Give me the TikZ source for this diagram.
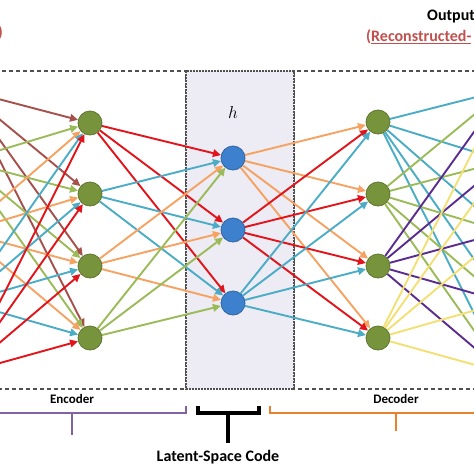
\documentclass[tikz,border=0pt]{standalone}
\usepackage{fontspec}
\setmainfont{Carlito}
\usetikzlibrary{arrows.meta}
\definecolor{inBrown}{HTML}{A5504B}
\definecolor{inGreen}{HTML}{9BBB59}
\definecolor{inOrange}{HTML}{F5A262}
\definecolor{inBlue}{HTML}{4BACC6}
\definecolor{inRed}{HTML}{E2141B}
\definecolor{outPurple}{HTML}{5B2C8F}
\definecolor{outYellow}{HTML}{F3E074}
\definecolor{unitGreen}{HTML}{77933C}
\definecolor{unitBlue}{HTML}{3D80CE}
\definecolor{codeFill}{HTML}{EDEBF3}
\definecolor{frameGray}{HTML}{505050}
\definecolor{encPurple}{HTML}{8064A2}
\definecolor{decOrange}{HTML}{E8822E}
\definecolor{titleRed}{HTML}{C0504D}
\tikzset{
	unitE/.style={circle, minimum size=24pt, inner sep=0pt, fill=unitGreen, draw=unitGreen!80!black, line width=0.8pt},
	unitZ/.style={circle, minimum size=24pt, inner sep=0pt, fill=unitBlue, draw=unitBlue!80!black, line width=0.8pt},
	wire/.style={line width=1.9pt, -{Triangle[length=8pt,width=7.5pt]}},
	brace/.style={line width=2.6pt}
}

\begin{document}
\begin{tikzpicture}[x=1pt, y=-1pt]
	%%%%% START %%%%%
	\useasboundingbox (0,0) rectangle (474,474);
	\clip (0,0) rectangle (474,474);
	
	% frames
	\draw[frameGray, line width=1.2pt, dash pattern=on 4pt off 3pt] (-20, 71) rectangle (186, 389);
	\draw[frameGray, line width=1.2pt, dash pattern=on 4pt off 3pt] (294, 71) rectangle (494, 389);
	\draw[fill=codeFill, draw=frameGray, line width=1.2pt, dash pattern=on 2pt off 1pt] (186, 71) rectangle (294, 389);
	\node at (233, 112) {\fontsize{17}{19}\selectfont $h$};
	
	% layers
	\coordinate (in1) at (-36, 90);
	\coordinate (in2) at (-36, 161);
	\coordinate (in3) at (-36, 232);
	\coordinate (in4) at (-36, 302);
	\coordinate (in5) at (-36, 373);
	\node[unitE] (e1) at (90, 123) {};
	\node[unitE] (e2) at (90, 194) {};
	\node[unitE] (e3) at (90, 266) {};
	\node[unitE] (e4) at (90, 338) {};
	\node[unitZ] (z1) at (233, 158) {};
	\node[unitZ] (z2) at (233, 230) {};
	\node[unitZ] (z3) at (233, 303) {};
	\node[unitE] (d1) at (378, 122) {};
	\node[unitE] (d2) at (378, 194) {};
	\node[unitE] (d3) at (378, 266) {};
	\node[unitE] (d4) at (378, 338) {};
	\coordinate (out1) at (504, 90);
	\coordinate (out2) at (504, 161);
	\coordinate (out3) at (504, 232);
	\coordinate (out4) at (504, 302);
	\coordinate (out5) at (504, 373);
	
	% encoder
	\path[wire, inBrown] (in1) edge (e1) edge (e2) edge (e3) edge (e4);
	\path[wire, inGreen] (in2) edge (e1) edge (e2) edge (e3) edge (e4);
	\path[wire, inOrange] (in3) edge (e1) edge (e2) edge (e3) edge (e4);
	\path[wire, inBlue] (in4) edge (e1) edge (e2) edge (e3) edge (e4);
	\path[wire, inRed] (in5) edge (e1) edge (e2) edge (e3) edge (e4);
	\path[wire, inRed] (e1) edge (z1) edge (z2) edge (z3);
	\path[wire, inBlue] (e2) edge (z1) edge (z2) edge (z3);
	\path[wire, inOrange] (e3) edge (z1) edge (z2) edge (z3);
	\path[wire, inGreen] (e4) edge (z1) edge (z2) edge (z3);
	
	% decoder
	\path[wire, inOrange] (z1) edge (d1) edge (d2) edge (d3) edge (d4);
	\path[wire, inRed] (z2) edge (d1) edge (d2) edge (d3) edge (d4);
	\path[wire, inBlue] (z3) edge (d1) edge (d2) edge (d3) edge (d4);
	\path[wire, inBlue] (d1) edge (out1) edge (out2) edge (out3) edge (out4) edge (out5);
	\path[wire, inGreen] (d2) edge (out1) edge (out2) edge (out3) edge (out4) edge (out5);
	\path[wire, outPurple] (d3) edge (out1) edge (out2) edge (out3) edge (out4) edge (out5);
	\path[wire, outYellow] (d4) edge (out1) edge (out2) edge (out3) edge (out4) edge (out5);
	
	% titles
	\node[anchor=east, inner sep=0pt, titleRed, font=\bfseries\fontsize{16}{18}\selectfont] (intail) at (3, 33) {)};
	\node[anchor=west, inner sep=0pt, font=\bfseries\fontsize{16}{18}\selectfont] (outtitle) at (427, 17) {Output};
	\node[anchor=west, inner sep=0pt, titleRed, font=\bfseries\fontsize{16}{18}\selectfont] (outsub) at (366, 37) {(\underline{Reconstructed-}};
	
	% braces
	\draw[brace, encPurple] (-5, 413) -- (186, 413) -- (186, 406);
	\draw[brace, encPurple] (72, 413) -- (72, 435);
	\draw[brace, line width=3.2pt] (198, 406) -- (198, 413) -- (259, 413) -- (259, 406);
	\draw[brace, line width=3.2pt] (228, 413) -- (228, 443);
	\draw[brace, decOrange] (270, 406) -- (270, 413) -- (480, 413);
	\draw[brace, decOrange] (396, 413) -- (396, 431);
	\node[font=\bfseries\fontsize{13}{15}\selectfont] (enc) at (72, 399) {Encoder};
	\node[font=\bfseries\fontsize{13}{15}\selectfont] (dec) at (396, 399) {Decoder};
	\node[font=\bfseries\fontsize{16}{18}\selectfont] (code) at (218, 457) {Latent-Space Code};
	
	%%%%% END %%%%%
\end{tikzpicture}
\end{document}
